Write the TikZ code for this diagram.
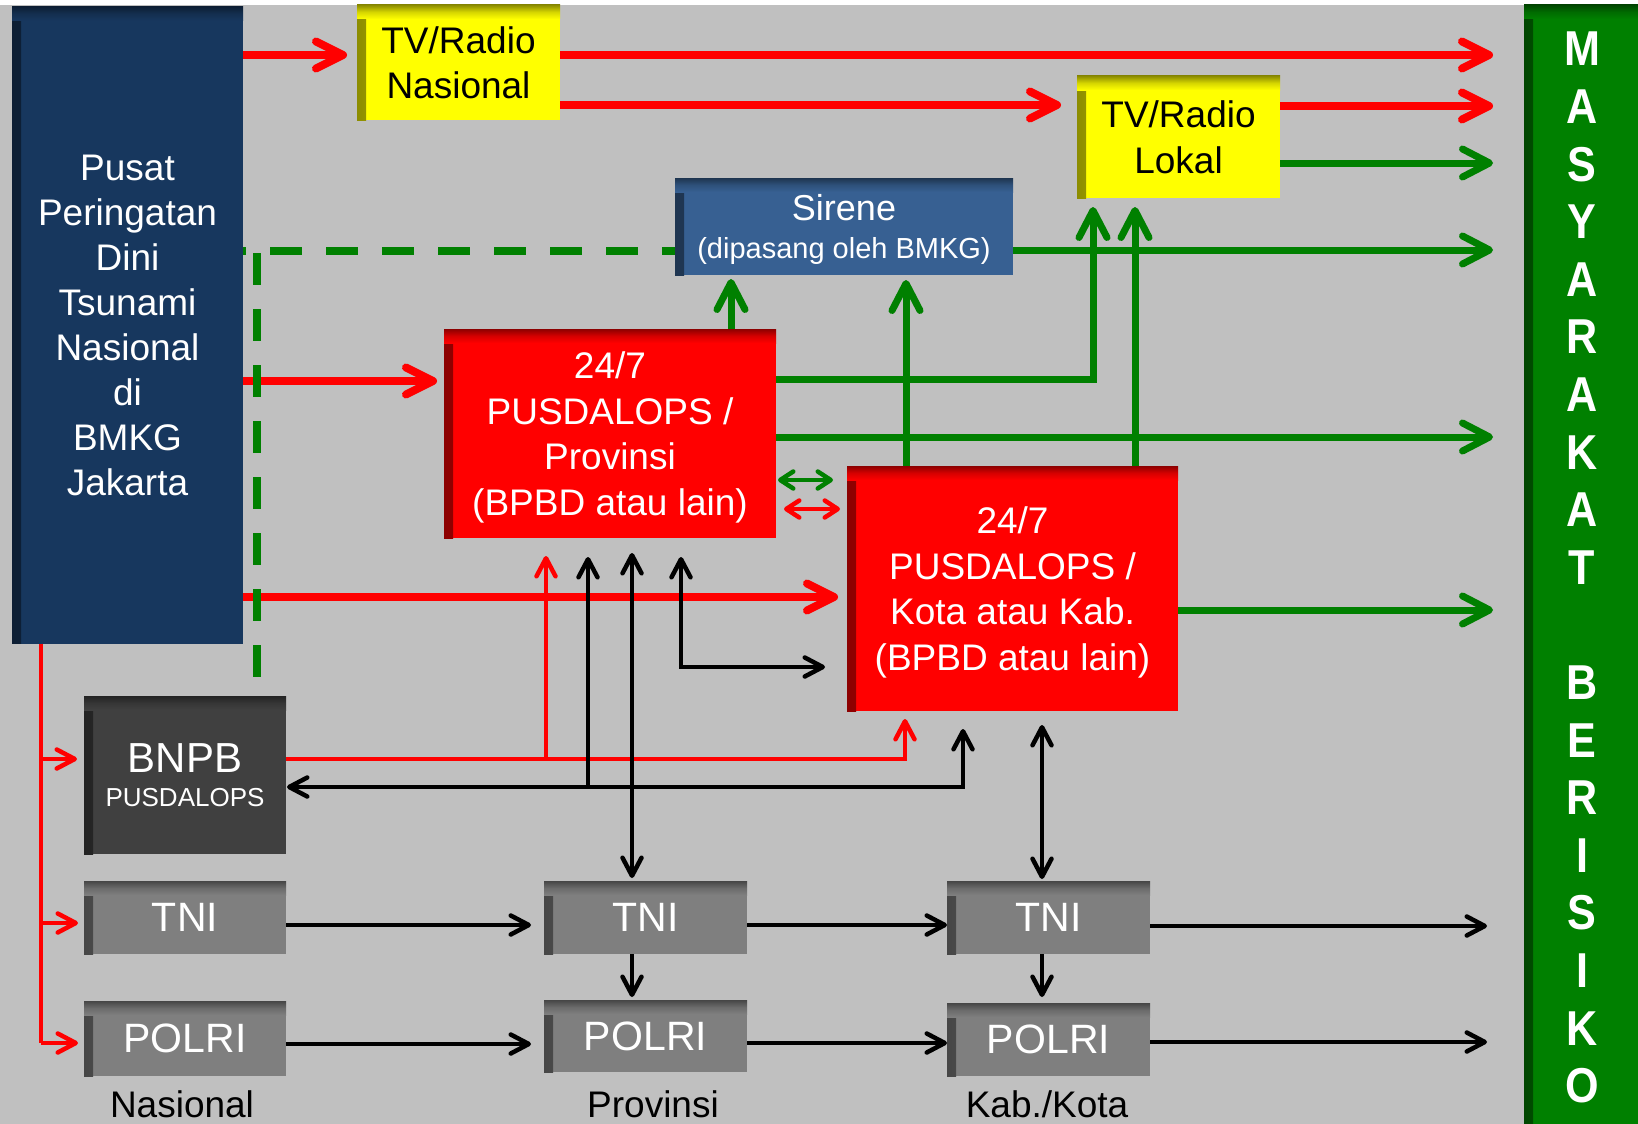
\documentclass[tikz,border=0pt]{standalone}
\usepackage{fontspec}
\setmainfont{Liberation Sans}
\newfontfamily\barfont{Liberation Sans}[FakeStretch=0.88]
\usetikzlibrary{arrows.meta}
\definecolor{bgc}{RGB}{192,192,192}
\definecolor{navyc}{RGB}{23,55,94}
\definecolor{sirc}{RGB}{55,96,146}
\definecolor{redc}{RGB}{255,0,0}
\definecolor{yelc}{RGB}{255,255,0}
\definecolor{dgc}{RGB}{64,64,64}
\definecolor{gc}{RGB}{127,127,127}
\definecolor{grc}{RGB}{0,128,0}
\tikzset{
  sbox/.style={fill=#1, inner sep=0pt, outer sep=0pt, align=center, text=white, text depth=0pt,
    path picture={
      \shade[left color=#1!55!black, right color=#1, middle color=#1!85!black] (path picture bounding box.north west) rectangle ([xshift=9pt]path picture bounding box.south west);
      \shade[top color=#1!55!black, bottom color=#1, middle color=#1!84!black] (path picture bounding box.north west) rectangle ([yshift=-14pt]path picture bounding box.north east);
    }},
  bigfont/.style={font=\fontsize{37}{45.5}\selectfont},
  lbl/.style={font=\fontsize{37}{45}\selectfont, text=black, inner sep=0pt},
  thickR/.style={draw=redc, line width=8pt, -{Straight Barb[round,length=27pt,width=27pt]}},
  thickG/.style={draw=grc, line width=7pt, -{Straight Barb[round,length=27pt,width=28pt]}},
  dashG/.style={draw=grc, line width=7.5pt, dash pattern=on 32pt off 24pt},
  lineR/.style={draw=redc, line width=4.5pt},
  thinR/.style={draw=redc, line width=4.5pt, -{Straight Barb[round,length=18pt,width=19pt]}},
  thinB/.style={draw=black, line width=4.5pt, -{Straight Barb[round,length=18pt,width=19pt]}},
  bothB/.style={draw=black, line width=4.5pt, {Straight Barb[round,length=18pt,width=19pt]}-{Straight Barb[round,length=18pt,width=19pt]}},
  smallG/.style={draw=grc, line width=4.5pt, {Straight Barb[round,length=13pt,width=17pt]}-{Straight Barb[round,length=13pt,width=17pt]}},
  smallR/.style={draw=redc, line width=4.5pt, {Straight Barb[round,length=13pt,width=17pt]}-{Straight Barb[round,length=13pt,width=17pt]}},
}
\begin{document}
\begin{tikzpicture}[x=1pt,y=-1pt]
\useasboundingbox (0,0) rectangle (1638,1124);
\fill[white] (0,0) rectangle (1638,1124);
\fill[bgc] (0,5) rectangle (1638,1124);

% boxes
\node[sbox=navyc, minimum width=231pt, minimum height=637pt, font=\fontsize{37}{45}\selectfont] (bmkg) at (127.5,325)
  {Pusat\\Peringatan\\Dini\\Tsunami\\Nasional\\di\\BMKG\\Jakarta};
\node[sbox=yelc, text=black, minimum width=203pt, minimum height=115pt, bigfont] (tvn) at (458.5,62.5)
  {TV/Radio\\Nasional};
\node[sbox=yelc, text=black, minimum width=203pt, minimum height=122pt, bigfont] (tvl) at (1178.5,137)
  {TV/Radio\\Lokal};
\node[sbox=sirc, minimum width=338pt, minimum height=97pt, font=\fontsize{36}{37.5}\selectfont] (sirene) at (844,226.5)
  {Sirene\\{\fontsize{29}{29}\selectfont (dipasang oleh BMKG)}};
\node[sbox=redc, minimum width=332pt, minimum height=209pt, bigfont] (prov) at (610,433.5)
  {24/7\\PUSDALOPS /\\Provinsi\\(BPBD atau lain)};
\node[sbox=redc, minimum width=331pt, minimum height=245pt, bigfont] (kota) at (1012.5,588.5)
  {24/7\\PUSDALOPS /\\Kota atau Kab.\\(BPBD atau lain)};
\node[sbox=dgc, minimum width=202pt, minimum height=158pt, font=\fontsize{42}{34}\selectfont] (bnpb) at (185,775)
  {BNPB\\{\fontsize{26}{26}\selectfont PUSDALOPS}};
\node[sbox=gc, minimum width=202pt, minimum height=73pt, font=\fontsize{41}{45}\selectfont] (tni1) at (185,917.5) {TNI};
\node[sbox=gc, minimum width=202pt, minimum height=75pt, font=\fontsize{41}{45}\selectfont] (polri1) at (185,1038.5) {POLRI};
\node[sbox=gc, minimum width=203pt, minimum height=73pt, font=\fontsize{41}{45}\selectfont] (tni2) at (645.5,917.5) {TNI};
\node[sbox=gc, minimum width=203pt, minimum height=72pt, font=\fontsize{41}{45}\selectfont] (polri2) at (645.5,1036) {POLRI};
\node[sbox=gc, minimum width=203pt, minimum height=73pt, font=\fontsize{41}{45}\selectfont] (tni3) at (1048.5,917.5) {TNI};
\node[sbox=gc, minimum width=203pt, minimum height=73pt, font=\fontsize{41}{45}\selectfont] (polri3) at (1048.5,1039.5) {POLRI};
\node[sbox=grc, minimum width=114pt, minimum height=1119pt] (bar) at (1581,564.5) {};
\node[align=center, text=white, inner sep=0pt, text depth=0pt, font=\barfont\bfseries\fontsize{49}{57.6}\selectfont] (masy) at (1582,567.5)
  {M\\A\\S\\Y\\A\\R\\A\\K\\A\\T\\[57.6pt]B\\E\\R\\I\\S\\I\\K\\O};

% level labels
\node[lbl] (lnas) at (182,1104) {Nasional};
\node[lbl] (lprov) at (653,1104) {Provinsi};
\node[lbl] (lkab) at (1047,1104) {Kab./Kota};

% red thick connectors
\draw[thickR, shorten >=10pt] (bmkg.east |- 0,55) -- (tvn.west |- 0,55);
\draw[thickR, shorten >=31pt] (tvn.east |- 0,55) -- (bar.west |- 0,55);
\draw[thickR, shorten >=16pt] (tvn.east |- 0,105) -- (tvl.west |- 0,105);
\draw[thickR, shorten >=31pt] (tvl.east |- 0,106) -- (bar.west |- 0,106);
\draw[thickR, shorten >=7pt] (bmkg.east |- 0,381) -- (prov.west |- 0,381);
\draw[thickR, shorten >=9pt] (bmkg.east |- 0,597) -- (kota.west |- 0,597);

% green connectors
\draw[thickG, shorten >=31pt] (tvl.east |- 0,163) -- (bar.west |- 0,163);
\draw[thickG, shorten >=31pt] (sirene.east |- 0,250) -- (bar.west |- 0,250);
\draw[thickG, shorten >=4pt] (prov.north -| 731,0) -- (sirene.south -| 731,0);
\draw[thickG, shorten >=5pt] (kota.north -| 906,0) -- (sirene.south -| 906,0);
\draw[thickG, shorten >=9pt] (prov.east |- 0,379) -- (1093,379) -- (tvl.south -| 1093,0);
\draw[thickG, shorten >=31pt] (prov.east |- 0,437) -- (bar.west |- 0,437);
\draw[thickG, shorten >=9pt] (kota.north -| 1135,0) -- (tvl.south -| 1135,0);
\draw[thickG, shorten >=31pt] (kota.east |- 0,610) -- (bar.west |- 0,610);

% dashed green
\draw[dashG, dash phase=29pt] (bmkg.east |- 0,251) -- (sirene.west |- 0,251);
\coordinate (dtop) at (257,253);
\coordinate (dbot) at (257,677);
\draw[dashG] (dtop) -- (dbot);

% small double arrows between the PUSDALOPS
\draw[smallG, shorten <=2pt, shorten >=14pt] (prov.east |- 0,480) -- (kota.west |- 0,480);
\draw[smallR, shorten <=8pt, shorten >=7pt] (prov.east |- 0,509) -- (kota.west |- 0,509);

% red thin connectors
\draw[lineR] (bmkg.south -| 41,0) -- (41,1043);
\draw[thinR, shorten >=7pt] (41,759) -- (bnpb.west |- 0,759);
\draw[thinR, shorten >=6pt] (41,923) -- (tni1.west |- 0,923);
\draw[thinR, shorten >=6pt] (41,1043) -- (polri1.west |- 0,1043);
\draw[thinR, shorten >=8pt] (bnpb.east |- 0,759) -- (905,759) -- (kota.south -| 905,0);
\draw[thinR, shorten >=18pt] (546,759) -- (prov.south -| 546,0);

% black connectors
\draw[bothB, shorten <=1pt, shorten >=18pt] (bnpb.east |- 0,787) -- (963,787) -- (kota.south -| 963,0);
\draw[thinB, shorten >=19pt] (588,785) -- (prov.south -| 588,0);
\draw[bothB, shorten <=15pt, shorten >=3pt] (prov.south -| 632,0) -- (tni2.north -| 632,0);
\draw[bothB, shorten <=19pt, shorten >=22pt] (prov.south -| 681,0) -- (681,667) -- (kota.west |- 0,667);
\draw[bothB, shorten <=14pt, shorten >=2pt] (kota.south -| 1042,0) -- (tni3.north -| 1042,0);
\draw[thinB, shorten >=13pt] (tni1.east |- 0,925) -- (tni2.west |- 0,925);
\draw[thinB] (tni2.east |- 0,925) -- (tni3.west |- 0,925);
\draw[thinB, shorten >=37pt] (tni3.east |- 0,926) -- (bar.west |- 0,926);
\draw[thinB, shorten >=13pt] (polri1.east |- 0,1044) -- (polri2.west |- 0,1044);
\draw[thinB] (polri2.east |- 0,1043) -- (polri3.west |- 0,1043);
\draw[thinB, shorten >=37pt] (polri3.east |- 0,1042) -- (bar.west |- 0,1042);
\draw[thinB, shorten >=3pt] (tni2.south -| 632,0) -- (polri2.north -| 632,0);
\draw[thinB, shorten >=6pt] (tni3.south -| 1042,0) -- (polri3.north -| 1042,0);
\end{tikzpicture}
\end{document}
